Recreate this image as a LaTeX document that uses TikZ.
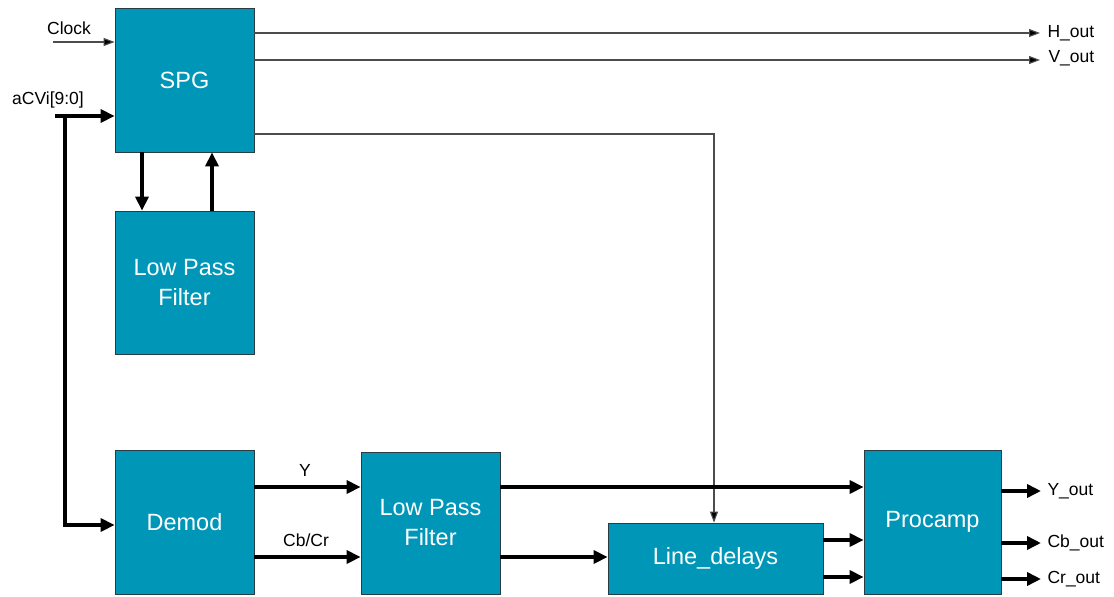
\documentclass[tikz,border=0pt]{standalone}
\usepackage{fontspec}
\setmainfont{Liberation Sans}
\usetikzlibrary{arrows.meta}
\definecolor{blockfill}{RGB}{0,150,183}
\definecolor{blockedge}{RGB}{40,60,70}
\begin{document}
\begin{tikzpicture}[x=1pt,y=-1pt,
  block/.style={draw=blockedge,line width=0.8pt,fill=blockfill,text=white,
    font=\fontsize{23.5}{30}\selectfont,align=center,inner sep=0pt},
  sig/.style={font=\fontsize{17.5}{21}\selectfont},
  thin/.style={line width=1.1pt,draw=black!70,-{Triangle[length=11pt,width=8pt,fill=black]}},
  bus/.style={line width=3.5pt,-{Triangle[length=14pt,width=13pt]}}]
\useasboundingbox (0,0) rectangle (1114,597);

% blocks
\node[block,minimum width=139pt,minimum height=144pt] (spg) at (184.5,80) {SPG};
\node[block,minimum width=139pt,minimum height=143pt] (lpfa) at (184.5,282.5) {Low Pass\\Filter};
\node[block,minimum width=139pt,minimum height=144pt] (demod) at (184.5,522) {Demod};
\node[block,minimum width=139pt,minimum height=142pt] (lpfb) at (430.5,523) {Low Pass\\Filter};
\node[block,minimum width=215pt,minimum height=71pt] (ld) at (715.5,558.5) {Line\_delays};
\node[block,minimum width=137pt,minimum height=144pt] (proc) at (932.5,522) {Procamp};

% input side
\coordinate (clk) at (53,42);
\node[sig] (clklbl) at (69,28) {Clock};
\draw[thin] (clk) -- (clk -| spg.west);

\node[sig] (cvlbl) at (48,100) {aCVi[9:0]};
\coordinate (cvin) at (55,116);
\coordinate (cvbend) at (65,116);
\coordinate (cvlow) at (65,525);
\draw[bus] (cvin) -- (cvin -| spg.west);
\draw[bus] (cvbend) -- (cvlow) -- (cvlow -| demod.west);

% SPG <-> low pass filter
\coordinate (dn) at (142,0);
\coordinate (up) at (212,0);
\draw[bus] (dn |- spg.south) -- (dn |- lpfa.north);
\draw[bus] (up |- lpfa.north) -- (up |- spg.south);

% SPG outputs
\coordinate (hend) at (1040,33);
\coordinate (vend) at (1040,60);
\draw[thin] (hend -| spg.east) -- (hend);
\draw[thin] (vend -| spg.east) -- (vend);
\node[sig,anchor=west] (hlbl) at (1044,33) {H\_out};
\node[sig,anchor=west] (vlbl) at (1045,58) {V\_out};
\coordinate (sync) at (714,134);
\draw[thin] (sync -| spg.east) -- (sync) -- (sync |- ld.north);

% demod to filter
\coordinate (ya) at (0,487);
\coordinate (ca) at (0,557);
\draw[bus] (ya -| demod.east) -- (ya -| lpfb.west);
\draw[bus] (ca -| demod.east) -- (ca -| lpfb.west);
\node[sig] (ylbl) at (305,470) {Y};
\node[sig] (clbl) at (306,540) {Cb/Cr};

% filter to procamp / line delays
\draw[bus] (ya -| lpfb.east) -- (ya -| proc.west);
\draw[bus] (ca -| lpfb.east) -- (ca -| ld.west);

% line delays to procamp
\coordinate (la) at (0,540);
\coordinate (lb) at (0,577);
\draw[bus] (la -| ld.east) -- (la -| proc.west);
\draw[bus] (lb -| ld.east) -- (lb -| proc.west);

% procamp outputs
\coordinate (yo) at (1041,491);
\coordinate (cbo) at (1041,543);
\coordinate (cro) at (1041,579);
\draw[bus] (yo -| proc.east) -- (yo);
\draw[bus] (cbo -| proc.east) -- (cbo);
\draw[bus] (cro -| proc.east) -- (cro);
\node[sig,anchor=west] (yol) at (1044,491) {Y\_out};
\node[sig,anchor=west] (cbol) at (1044,543) {Cb\_out};
\node[sig,anchor=west] (crol) at (1044,579) {Cr\_out};
\end{tikzpicture}
\end{document}
